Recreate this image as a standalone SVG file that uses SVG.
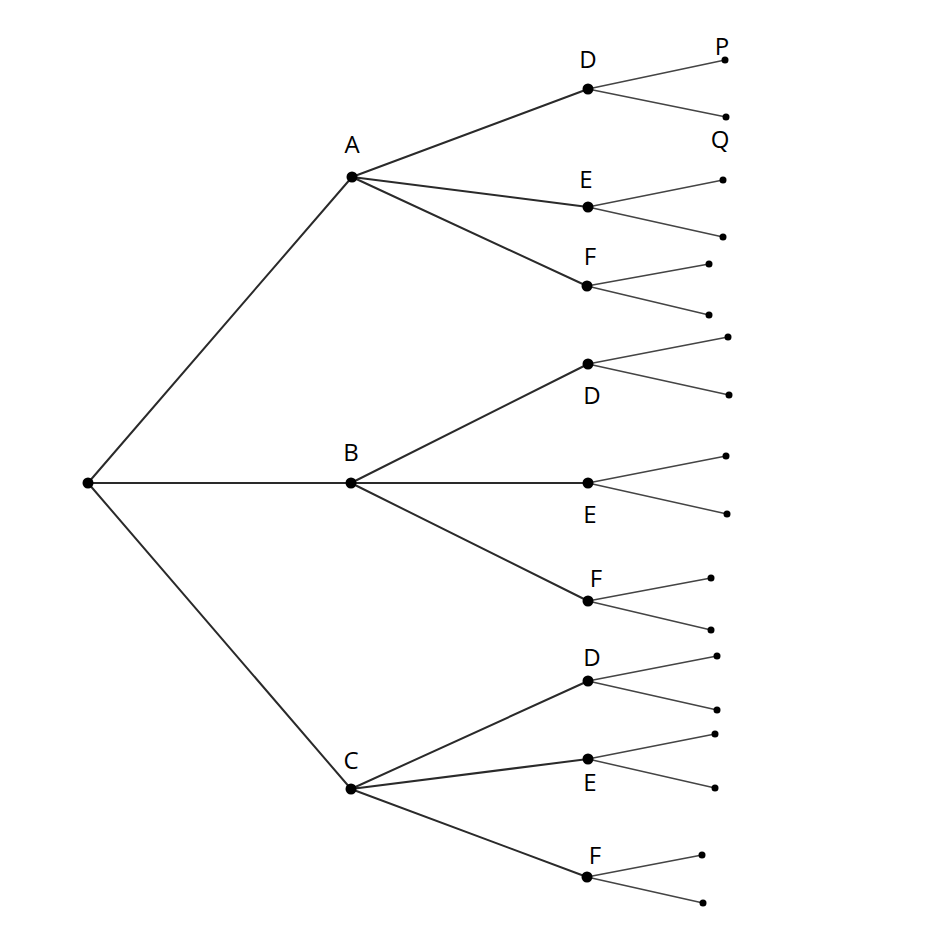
<svg xmlns="http://www.w3.org/2000/svg" width="930" height="934" viewBox="0 0 930 934">
<style>
.e{stroke:#2a2a2a;stroke-width:2;fill:none}
.l{stroke:#444;stroke-width:1.5;fill:none}
.n{fill:#000}
text{font-family:"Open Sans","Liberation Sans",sans-serif;font-size:24px;fill:#000;text-anchor:middle}
</style>
<rect width="930" height="934" fill="#fff"/>
<g id="connectors">
<path class="e" d="M88 483L352 177M88 483L351 483M88 483L351 789"/>
<path class="e" d="M352 177L588 89M352 177L588 207M352 177L587 286"/>
<path class="e" d="M351 483L588 364M351 483L588 483M351 483L588 601"/>
<path class="e" d="M351 789L588 681M351 789L588 759M351 789L587 877"/>
<path class="l" d="M588 89L725 60M588 89L726 117M588 207L723 180M588 207L723 237M587 286L709 264M587 286L709 315"/>
<path class="l" d="M588 364L728 337M588 364L729 395M588 483L726 456M588 483L727 514M588 601L711 578M588 601L711 630"/>
<path class="l" d="M588 681L717 656M588 681L717 710M588 759L715 734M588 759L715 788M587 877L702 855M587 877L703 903"/>
</g>
<g id="root"><circle class="n" cx="88" cy="483" r="5.5"/></g>
<g id="A"><circle class="n" cx="352" cy="177" r="5.5"/><text x="352" y="153">A</text></g>
<g id="B"><circle class="n" cx="351" cy="483" r="5.5"/><text x="351" y="461">B</text></g>
<g id="C"><circle class="n" cx="351" cy="789" r="5.5"/><text x="351" y="769">C</text></g>
<g id="AD"><circle class="n" cx="588" cy="89" r="5.5"/><text x="588" y="68">D</text></g>
<g id="AE"><circle class="n" cx="588" cy="207" r="5.5"/><text x="586" y="188">E</text></g>
<g id="AF"><circle class="n" cx="587" cy="286" r="5.5"/><text x="590" y="265">F</text></g>
<g id="BD"><circle class="n" cx="588" cy="364" r="5.5"/><text x="592" y="404">D</text></g>
<g id="BE"><circle class="n" cx="588" cy="483" r="5.5"/><text x="590" y="523">E</text></g>
<g id="BF"><circle class="n" cx="588" cy="601" r="5.5"/><text x="596" y="587">F</text></g>
<g id="CD"><circle class="n" cx="588" cy="681" r="5.5"/><text x="592" y="666">D</text></g>
<g id="CE"><circle class="n" cx="588" cy="759" r="5.5"/><text x="590" y="791">E</text></g>
<g id="CF"><circle class="n" cx="587" cy="877" r="5.5"/><text x="595" y="864">F</text></g>
<g id="leaves">
<circle class="n" cx="725" cy="60" r="3.5"/><text x="722" y="55">P</text>
<circle class="n" cx="726" cy="117" r="3.5"/><text x="720" y="148">Q</text>
<circle class="n" cx="723" cy="180" r="3.5"/><circle class="n" cx="723" cy="237" r="3.5"/>
<circle class="n" cx="709" cy="264" r="3.5"/><circle class="n" cx="709" cy="315" r="3.5"/>
<circle class="n" cx="728" cy="337" r="3.5"/><circle class="n" cx="729" cy="395" r="3.5"/>
<circle class="n" cx="726" cy="456" r="3.5"/><circle class="n" cx="727" cy="514" r="3.5"/>
<circle class="n" cx="711" cy="578" r="3.5"/><circle class="n" cx="711" cy="630" r="3.5"/>
<circle class="n" cx="717" cy="656" r="3.5"/><circle class="n" cx="717" cy="710" r="3.5"/>
<circle class="n" cx="715" cy="734" r="3.5"/><circle class="n" cx="715" cy="788" r="3.5"/>
<circle class="n" cx="702" cy="855" r="3.5"/><circle class="n" cx="703" cy="903" r="3.5"/>
</g>
</svg>
